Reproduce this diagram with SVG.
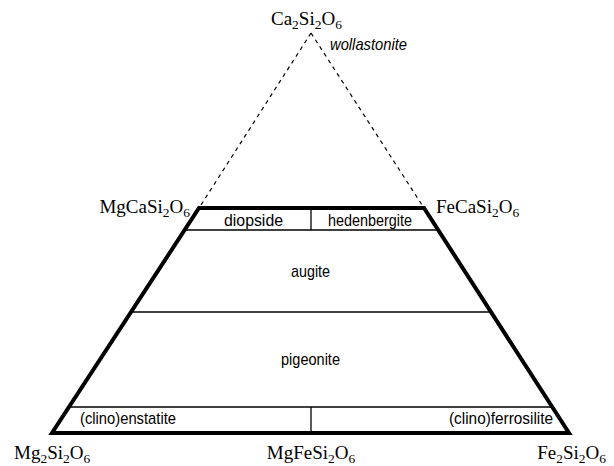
<svg xmlns="http://www.w3.org/2000/svg" width="614" height="466" viewBox="0 0 614 466">
<style>
.f{font-family:"Liberation Serif","DejaVu Serif",serif;font-size:19px;fill:#000}
.s{font-size:13.5px}
.l{font-family:"Liberation Sans","DejaVu Sans",sans-serif;font-size:17px;fill:#000}
.w{font-family:"Liberation Sans","DejaVu Sans",sans-serif;font-size:17px;font-style:italic;fill:#000}
.thick{stroke:#000;stroke-width:4;fill:none;stroke-linejoin:miter}
.thin{stroke:#000;stroke-width:1.3;fill:none}
.dash{stroke:#000;stroke-width:1.2;fill:none;stroke-dasharray:4 4}
</style>
<rect width="614" height="466" fill="#fff"/>
<g id="connectors">
<line class="dash" x1="311" y1="33" x2="199" y2="208"/>
<line class="dash" x1="311" y1="33" x2="424" y2="208"/>
<line class="thin" x1="185.3" y1="230" x2="438.2" y2="230"/>
<line class="thin" x1="311" y1="208" x2="311" y2="230"/>
<line class="thin" x1="130.9" y1="312" x2="491.5" y2="312" stroke="#555" stroke-width="2"/>
<line class="thin" x1="69" y1="407" x2="552.4" y2="407"/>
<line class="thin" x1="311" y1="407" x2="311" y2="433"/>
<polygon class="thick" points="199,208 424,208 569,433 52,433"/>
</g>
<g id="apex"><text class="f" x="271" y="25">Ca<tspan class="s" dy="4">2</tspan><tspan dy="-4">Si</tspan><tspan class="s" dy="4">2</tspan><tspan dy="-4">O</tspan><tspan class="s" dy="4">6</tspan></text>
<text class="w" x="330" y="50" textLength="77" lengthAdjust="spacingAndGlyphs">wollastonite</text></g>
<g id="mgca"><text class="f" x="190" y="213" text-anchor="end">MgCaSi<tspan class="s" dy="4">2</tspan><tspan dy="-4">O</tspan><tspan class="s" dy="4">6</tspan></text></g>
<g id="feca"><text class="f" x="436" y="213">FeCaSi<tspan class="s" dy="4">2</tspan><tspan dy="-4">O</tspan><tspan class="s" dy="4">6</tspan></text></g>
<g id="mg2"><text class="f" x="14" y="459">Mg<tspan class="s" dy="4">2</tspan><tspan dy="-4">Si</tspan><tspan class="s" dy="4">2</tspan><tspan dy="-4">O</tspan><tspan class="s" dy="4">6</tspan></text></g>
<g id="mgfe"><text class="f" x="311" y="459" text-anchor="middle">MgFeSi<tspan class="s" dy="4">2</tspan><tspan dy="-4">O</tspan><tspan class="s" dy="4">6</tspan></text></g>
<g id="fe2"><text class="f" x="606" y="459" text-anchor="end">Fe<tspan class="s" dy="4">2</tspan><tspan dy="-4">Si</tspan><tspan class="s" dy="4">2</tspan><tspan dy="-4">O</tspan><tspan class="s" dy="4">6</tspan></text></g>
<g id="diopside"><text class="l" x="224" y="226" textLength="59" lengthAdjust="spacingAndGlyphs">diopside</text></g>
<g id="hedenbergite"><text class="l" x="328" y="226" textLength="84" lengthAdjust="spacingAndGlyphs">hedenbergite</text></g>
<g id="augite"><text class="l" x="291" y="277" textLength="39" lengthAdjust="spacingAndGlyphs">augite</text></g>
<g id="pigeonite"><text class="l" x="281" y="365" textLength="59" lengthAdjust="spacingAndGlyphs">pigeonite</text></g>
<g id="enstatite"><text class="l" x="80" y="424" textLength="96" lengthAdjust="spacingAndGlyphs">(clino)enstatite</text></g>
<g id="ferrosilite"><text class="l" x="449" y="424" textLength="104" lengthAdjust="spacingAndGlyphs">(clino)ferrosilite</text></g>
</svg>
